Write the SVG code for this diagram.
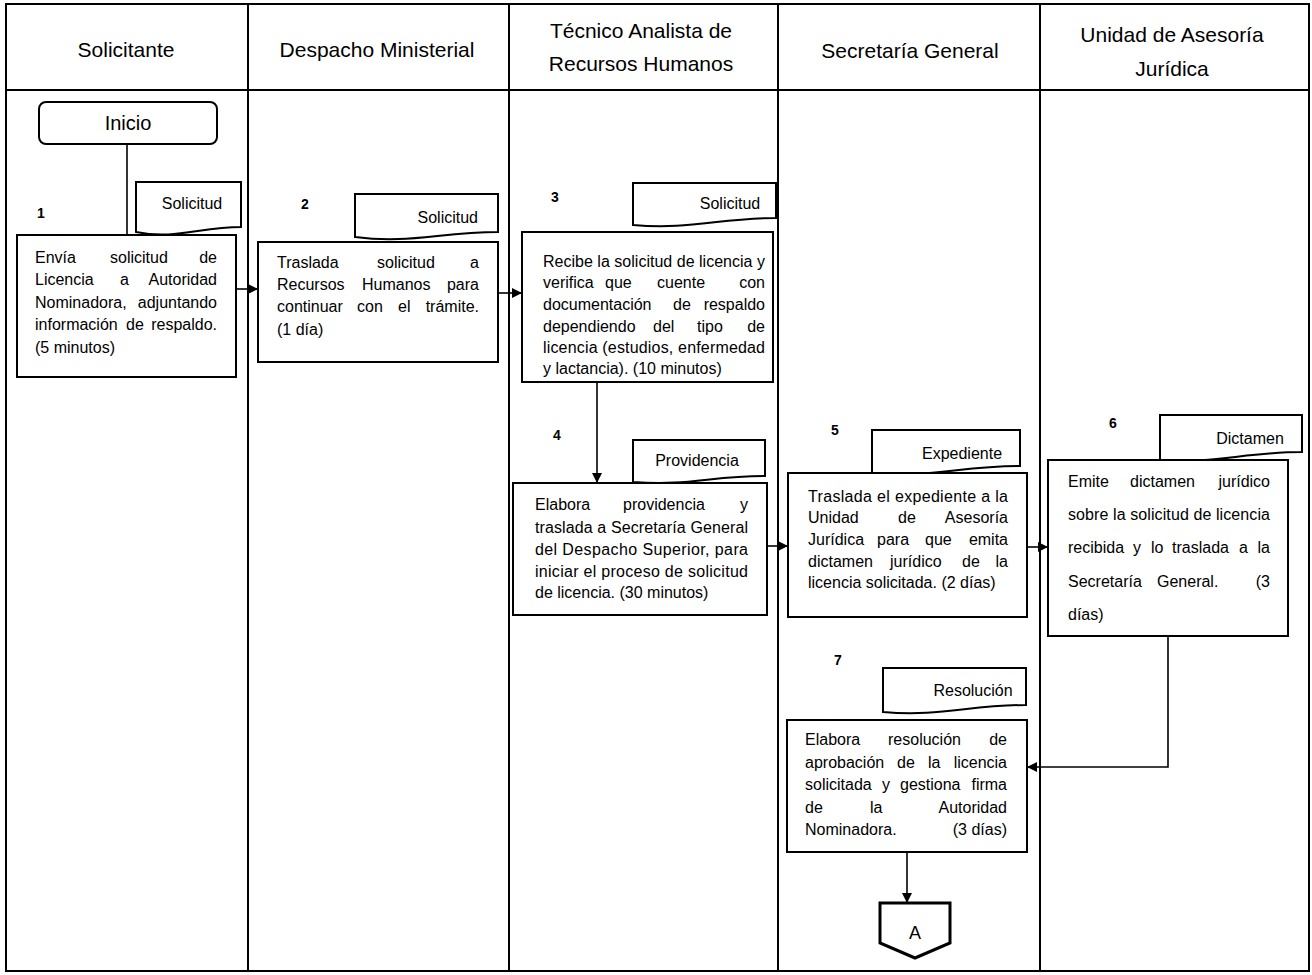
<svg xmlns="http://www.w3.org/2000/svg" width="1312" height="975" viewBox="0 0 1312 975">
<style>
  .frame{fill:none;stroke:#000;stroke-width:2}
  .box{fill:#fff;stroke:#000;stroke-width:2}
  .doc{fill:#fff;stroke:#000;stroke-width:2}
  .hdr{font-family:"Liberation Sans",Arial,sans-serif;font-size:21px;fill:#000;text-anchor:middle}
  .t{font-family:"Liberation Sans",Arial,sans-serif;font-size:16px;fill:#000}
  .e{text-anchor:end}
  .m{text-anchor:middle}
  .num{font-family:"Liberation Sans",Arial,sans-serif;font-size:14px;font-weight:bold;fill:#000}
  .conn{fill:none;stroke:#000;stroke-width:1.6}
</style>
<defs>
  <marker id="arr" viewBox="0 0 10 10" refX="10" refY="5" markerWidth="10" markerHeight="10" markerUnits="userSpaceOnUse" orient="auto">
    <path d="M0,0 L10,5 L0,10 Z" fill="#000"/>
  </marker>
</defs>

<g id="lanes">
  <rect class="frame" x="6" y="4" width="1303" height="967"/>
  <line class="frame" x1="6" y1="90" x2="1309" y2="90"/>
  <line class="frame" x1="248" y1="4" x2="248" y2="971"/>
  <line class="frame" x1="509" y1="4" x2="509" y2="971"/>
  <line class="frame" x1="778" y1="4" x2="778" y2="971"/>
  <line class="frame" x1="1040" y1="4" x2="1040" y2="971"/>
  <text class="hdr" x="126" y="57">Solicitante</text>
  <text class="hdr" x="377" y="57">Despacho Ministerial</text>
  <text class="hdr" x="641" y="38">Técnico Analista de</text>
  <text class="hdr" x="641" y="71">Recursos Humanos</text>
  <text class="hdr" x="910" y="58">Secretaría General</text>
  <text class="hdr" x="1172" y="42">Unidad de Asesoría</text>
  <text class="hdr" x="1172" y="76">Jurídica</text>
</g>

<g id="connectors">
  <line class="conn" x1="127" y1="144" x2="127" y2="235"/>
  <line class="conn" x1="236" y1="289" x2="258" y2="289" marker-end="url(#arr)"/>
  <line class="conn" x1="498" y1="293" x2="522" y2="293" marker-end="url(#arr)"/>
  <line class="conn" x1="597" y1="382" x2="597" y2="483" marker-end="url(#arr)"/>
  <line class="conn" x1="767" y1="546" x2="788" y2="546" marker-end="url(#arr)"/>
  <line class="conn" x1="1027" y1="547" x2="1048" y2="547" marker-end="url(#arr)"/>
  <polyline class="conn" points="1168,636 1168,767 1027,767" marker-end="url(#arr)"/>
  <line class="conn" x1="907" y1="852" x2="907" y2="903" marker-end="url(#arr)"/>
</g>

<g id="inicio">
  <rect class="box" x="39" y="102" width="178" height="42" rx="7"/>
  <text class="hdr" x="128" y="130" style="font-size:20px">Inicio</text>
</g>

<g id="n1">
  <text class="num" x="37" y="218">1</text>
  <path class="doc" d="M136,182 H241 V227 C200,227 175,240 136,232 Z"/>
  <text class="t m" x="192" y="209">Solicitud</text>
  <rect class="box" x="17" y="235" width="219" height="142"/>
  <text class="t" y="263"><tspan x="35">Envía</tspan><tspan x="110">solicitud</tspan><tspan x="217" text-anchor="end">de</tspan></text>
  <text class="t" y="285"><tspan x="35">Licencia</tspan><tspan x="120">a</tspan><tspan x="217" text-anchor="end">Autoridad</tspan></text>
  <text class="t" y="308"><tspan x="35">Nominadora,</tspan><tspan x="217" text-anchor="end">adjuntando</tspan></text>
  <text class="t" y="330"><tspan x="35">información</tspan><tspan x="126">de</tspan><tspan x="217" text-anchor="end">respaldo.</tspan></text>
  <text class="t" x="35" y="353">(5 minutos)</text>
</g>

<g id="n2">
  <text class="num" x="301" y="209">2</text>
  <path class="doc" d="M355,194 H498 V232 C440,232 410,244 355,237 Z"/>
  <text class="t e" x="478" y="223">Solicitud</text>
  <rect class="box" x="258" y="242" width="240" height="120"/>
  <text class="t" y="268"><tspan x="277">Traslada</tspan><tspan x="377">solicitud</tspan><tspan x="479" text-anchor="end">a</tspan></text>
  <text class="t" y="290"><tspan x="277">Recursos</tspan><tspan x="362">Humanos</tspan><tspan x="479" text-anchor="end">para</tspan></text>
  <text class="t" y="312"><tspan x="277">continuar</tspan><tspan x="357">con</tspan><tspan x="398">el</tspan><tspan x="479" text-anchor="end">trámite.</tspan></text>
  <text class="t" x="277" y="335">(1 día)</text>
</g>

<g id="n3">
  <text class="num" x="551" y="202">3</text>
  <path class="doc" d="M633,183 H776 V218 C720,218 690,230 633,225 Z"/>
  <text class="t m" x="730" y="209">Solicitud</text>
  <rect class="box" x="522" y="232" width="251" height="150"/>
  <text class="t" x="543" y="267" textLength="222" lengthAdjust="spacing">Recibe la solicitud de licencia y</text>
  <text class="t" y="288"><tspan x="543">verifica</tspan><tspan x="605">que</tspan><tspan x="657">cuente</tspan><tspan x="765" text-anchor="end">con</tspan></text>
  <text class="t" y="310"><tspan x="543">documentación</tspan><tspan x="673">de</tspan><tspan x="765" text-anchor="end">respaldo</tspan></text>
  <text class="t" y="332"><tspan x="543">dependiendo</tspan><tspan x="653">del</tspan><tspan x="697">tipo</tspan><tspan x="765" text-anchor="end">de</tspan></text>
  <text class="t" x="543" y="353" textLength="222" lengthAdjust="spacing">licencia (estudios, enfermedad</text>
  <text class="t" x="543" y="374">y lactancia).  (10 minutos)</text>
</g>

<g id="n4">
  <text class="num" x="553" y="440">4</text>
  <path class="doc" d="M633,440 H765 V476 C710,476 690,486 633,482 Z"/>
  <text class="t m" x="697" y="466">Providencia</text>
  <rect class="box" x="513" y="483" width="254" height="132"/>
  <text class="t" y="510"><tspan x="535">Elabora</tspan><tspan x="623">providencia</tspan><tspan x="748" text-anchor="end">y</tspan></text>
  <text class="t" x="535" y="533" textLength="213" lengthAdjust="spacing">traslada a Secretaría General</text>
  <text class="t" x="535" y="555" textLength="213" lengthAdjust="spacing">del Despacho Superior, para</text>
  <text class="t" x="535" y="577" textLength="213" lengthAdjust="spacing">iniciar el proceso de solicitud</text>
  <text class="t" x="535" y="598">de licencia.  (30 minutos)</text>
</g>

<g id="n5">
  <text class="num" x="831" y="435">5</text>
  <path class="doc" d="M872,430 H1020 V466 C960,466 930,478 872,473 Z"/>
  <text class="t m" x="962" y="459">Expediente</text>
  <rect class="box" x="788" y="473" width="239" height="144"/>
  <text class="t" x="808" y="502" textLength="200" lengthAdjust="spacing">Traslada el expediente a la</text>
  <text class="t" y="523"><tspan x="808">Unidad</tspan><tspan x="898">de</tspan><tspan x="1008" text-anchor="end">Asesoría</tspan></text>
  <text class="t" y="545"><tspan x="808">Jurídica</tspan><tspan x="877">para</tspan><tspan x="925">que</tspan><tspan x="1008" text-anchor="end">emita</tspan></text>
  <text class="t" y="567"><tspan x="808">dictamen</tspan><tspan x="890">jurídico</tspan><tspan x="962">de</tspan><tspan x="1008" text-anchor="end">la</tspan></text>
  <text class="t" x="808" y="588">licencia solicitada.  (2 días)</text>
</g>

<g id="n6">
  <text class="num" x="1109" y="428">6</text>
  <path class="doc" d="M1160,415 H1302 V452 C1245,452 1215,464 1160,460 Z"/>
  <text class="t m" x="1250" y="444">Dictamen</text>
  <rect class="box" x="1048" y="460" width="240" height="176"/>
  <text class="t" y="487"><tspan x="1068">Emite</tspan><tspan x="1130">dictamen</tspan><tspan x="1270" text-anchor="end">jurídico</tspan></text>
  <text class="t" x="1068" y="520" textLength="202" lengthAdjust="spacing">sobre la solicitud de licencia</text>
  <text class="t" y="553"><tspan x="1068">recibida</tspan><tspan x="1133">y</tspan><tspan x="1151">lo</tspan><tspan x="1172">traslada</tspan><tspan x="1239">a</tspan><tspan x="1270" text-anchor="end">la</tspan></text>
  <text class="t" y="587"><tspan x="1068">Secretaría</tspan><tspan x="1157">General.</tspan><tspan x="1270" text-anchor="end">(3</tspan></text>
  <text class="t" x="1068" y="620">días)</text>
</g>

<g id="n7">
  <text class="num" x="834" y="665">7</text>
  <path class="doc" d="M883,668 H1026 V705 C970,705 940,717 883,712 Z"/>
  <text class="t m" x="973" y="696">Resolución</text>
  <rect class="box" x="787" y="720" width="240" height="132"/>
  <text class="t" y="745"><tspan x="805">Elabora</tspan><tspan x="888">resolución</tspan><tspan x="1007" text-anchor="end">de</tspan></text>
  <text class="t" y="768"><tspan x="805">aprobación</tspan><tspan x="897">de</tspan><tspan x="928">la</tspan><tspan x="1007" text-anchor="end">licencia</tspan></text>
  <text class="t" y="790"><tspan x="805">solicitada</tspan><tspan x="882">y</tspan><tspan x="900">gestiona</tspan><tspan x="1007" text-anchor="end">firma</tspan></text>
  <text class="t" y="813"><tspan x="805">de</tspan><tspan x="870">la</tspan><tspan x="1007" text-anchor="end">Autoridad</tspan></text>
  <text class="t" y="835"><tspan x="805">Nominadora.</tspan><tspan x="1007" text-anchor="end">(3 días)</tspan></text>
</g>

<g id="connA">
  <polygon points="880,903 950,903 950,943 915,958 880,943" fill="#fff" stroke="#000" stroke-width="3"/>
  <text class="hdr" x="915" y="939" style="font-size:18px">A</text>
</g>
</svg>
